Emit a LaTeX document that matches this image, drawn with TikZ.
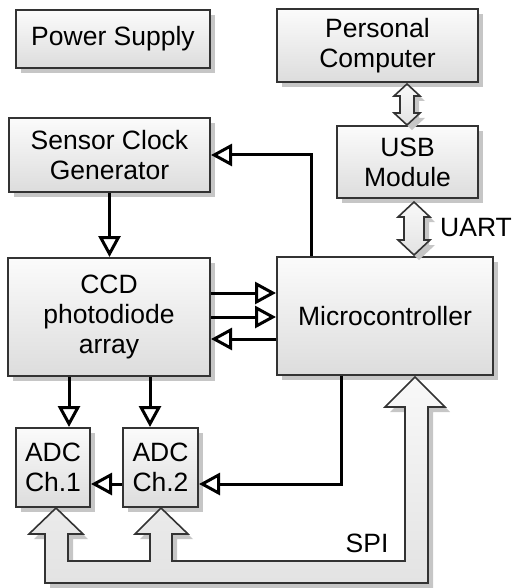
\documentclass[tikz,border=0pt]{standalone}
\usepackage{fontspec}
\setmainfont{Liberation Sans}
\usetikzlibrary{arrows.meta,shadows,calc}
\tikzset{
  myshadow/.style={drop shadow={shadow xshift=5pt, shadow yshift=-5pt, fill=gray!45, opacity=1}},
  blk/.style={draw=black!80, line width=2pt, top color=gray!3, bottom color=gray!27, myshadow,
    align=center, inner sep=0pt, text=black, font=\fontsize{26.5}{30}\selectfont},
  sig/.style={line width=3pt, -{Triangle[open,length=21pt,width=22pt,line width=3pt]}},
  fat/.style={draw=black!80, line width=1.6pt, top color=gray!5, bottom color=gray!22, myshadow},
  lbl/.style={font=\fontsize{26.5}{30}\selectfont, inner sep=0pt}
}
\begin{document}
\begin{tikzpicture}[x=1pt,y=-1pt]
\useasboundingbox (0,0) rectangle (512,588);
% blocks
\node[blk, minimum width=194pt, minimum height=58pt] (ps) at (113,39) {Power Supply};
\node[blk, minimum width=201pt, minimum height=73pt] (pc) at (377.5,45.5) {Personal\\Computer};
\node[blk, minimum width=201pt, minimum height=74pt] (scg) at (109.5,155) {Sensor Clock\\Generator};
\node[blk, minimum width=141pt, minimum height=72pt] (usb) at (407.5,162) {USB\\Module};
\node[blk, minimum width=202pt, minimum height=118pt] (ccd) at (109,317) {CCD\\photodiode\\array};
\node[blk, minimum width=216pt, minimum height=118pt] (mc) at (385,316) {Microcontroller};
\node[blk, minimum width=74pt, minimum height=79pt] (adc1) at (53,467.5) {ADC\\Ch.1};
\node[blk, minimum width=75pt, minimum height=79pt] (adc2) at (160.5,467.5) {ADC\\Ch.2};
% signal connectors
\draw[sig] ([xshift=-74pt]mc.north) |- (scg.east);
\draw[sig] (scg.south) -- (scg.south |- ccd.north);
\draw[sig] ([yshift=24pt]ccd.east) -- ([yshift=24pt]ccd.east -| mc.west);
\draw[sig] (ccd.east) -- (ccd.east -| mc.west);
\draw[sig] ([yshift=-23pt]mc.west) -- ([yshift=-23pt]mc.west -| ccd.east);
\draw[sig] ([xshift=16pt]adc1.north |- ccd.south) -- ([xshift=16pt]adc1.north);
\draw[sig] ([xshift=-10.5pt]adc2.north |- ccd.south) -- ([xshift=-10.5pt]adc2.north);
\draw[sig] ([xshift=-44pt]mc.south) |- ([yshift=-16.5pt]adc2.east);
\draw[sig] ([yshift=-16.5pt]adc2.west) -- ([yshift=-16.5pt]adc1.east);
% double arrows
\path[fat] (407,84) -- (420,96) -- (414,96) -- (414,113) -- (420,113) -- (407,125)
  -- (394,113) -- (400,113) -- (400,96) -- (394,96) -- cycle;
\path[fat] (414,202) -- (430,217) -- (424,217) -- (424,240) -- (430,240) -- (414,255)
  -- (398,240) -- (404,240) -- (404,217) -- (398,217) -- cycle;
% SPI bus
\path[fat] (56,508) -- (83,534) -- (68,534) -- (68,561) -- (150,561) -- (150,534)
  -- (135,534) -- (161,508) -- (188,534) -- (172,534) -- (172,561) -- (405,561)
  -- (405,407) -- (385,407) -- (415,377) -- (445,407) -- (428,407) -- (428,583)
  -- (45,583) -- (45,534) -- (29,534) -- cycle;
% labels
\node[lbl, anchor=west] (uart) at (440,228) {UART};
\node[lbl] (spi) at (367,543) {SPI};
\end{tikzpicture}
\end{document}
